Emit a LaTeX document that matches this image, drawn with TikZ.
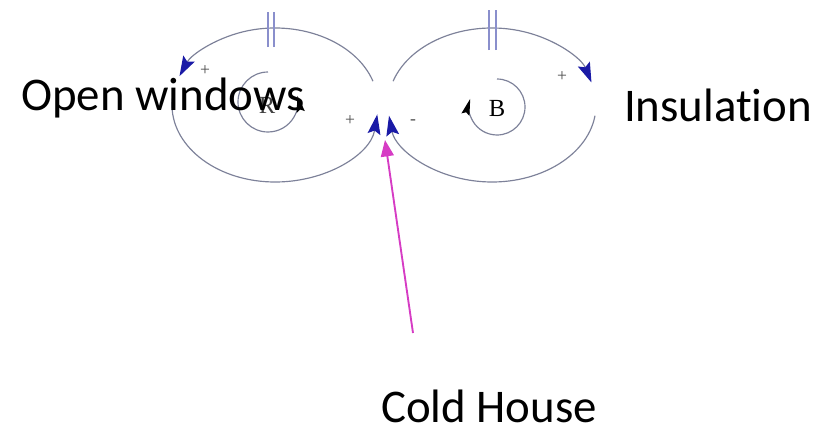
\documentclass[tikz,border=0pt]{standalone}
\usepackage{fontspec}
\newfontfamily\labelfont[Ligatures=NoCommon]{Carlito}
\newfontfamily\seriffont{Liberation Serif}
\usetikzlibrary{arrows.meta}
\definecolor{cline}{HTML}{7D8199}
\definecolor{chash}{HTML}{8A8FCC}
\definecolor{ctip}{HTML}{1A1AA6}
\definecolor{cpink}{HTML}{D63CC4}
\tikzset{
  every picture/.style={x=0.03cm, y=0.03cm},
  linkarc/.style={draw=cline, line width=1pt, -{Stealth[length=17pt, width=11pt, inset=3pt, color=ctip]}},
  innerarc/.style={draw=cline, line width=1pt, -{Stealth[length=14pt, width=7pt, inset=2pt, color=black]}},
  hash/.style={draw=chash, line width=0.9pt},
  sign/.style={font=\seriffont\fontsize{15}{15}\selectfont, text=black!70, inner sep=0pt},
  looptag/.style={font=\seriffont\fontsize{21}{21}\selectfont, inner sep=0pt},
  var/.style={font=\labelfont\fontsize{40}{48}\selectfont, inner sep=0pt},
  pointer/.style={draw=cpink, line width=1.6pt, -{Triangle[length=14pt, width=11pt]}, cpink},
}
\begin{document}
\begin{tikzpicture}
  \useasboundingbox (0,0) rectangle (820,435);
  % left loop (R)
  \draw[linkarc] (275,330) ++(18:103 and 77) arc[start angle=18, end angle=158, x radius=103, y radius=77];
  \draw[linkarc] (275,330) ++(175:103 and 77) arc[start angle=175, end angle=353, x radius=103, y radius=77];
  \draw[hash] (268,388) -- (268,423);
  \draw[hash] (274,388) -- (274,423);
  \draw[innerarc] (268,333) ++(90:30) arc[start angle=90, end angle=372, radius=30];
  \node[looptag, text=black!75] (rtag) at (267,330) {R};
  % right loop (B)
  \draw[linkarc] (492,330) ++(162:104 and 77) arc[start angle=162, end angle=17, x radius=104, y radius=77];
  \draw[linkarc] (492,330) ++(-8:104 and 77) arc[start angle=-8, end angle=-172, x radius=104, y radius=77];
  \draw[hash] (489,385) -- (489,425);
  \draw[hash] (496,385) -- (496,425);
  \draw[innerarc] (497,328) ++(90:28) arc[start angle=90, end angle=-197, radius=28];
  \node[looptag] (btag) at (497,327) {B};
  % polarities
  \node[sign] (s1) at (205,364) {+};
  \node[sign] (s2) at (350,314) {+};
  \node[sign] (s3) at (413,313) {-};
  \node[sign] (s4) at (562,358) {+};
  % variables
  \node[var] (open) at (163,337) {Open windows};
  \node[var] (insul) at (718,330) {Insulation};
  \node[var] (cold) at (489,29) {Cold House};
  \coordinate (tail) at (413,102);
  \coordinate (meet) at (385,295);
  \draw[pointer] (tail) -- (meet);
\end{tikzpicture}
\end{document}
